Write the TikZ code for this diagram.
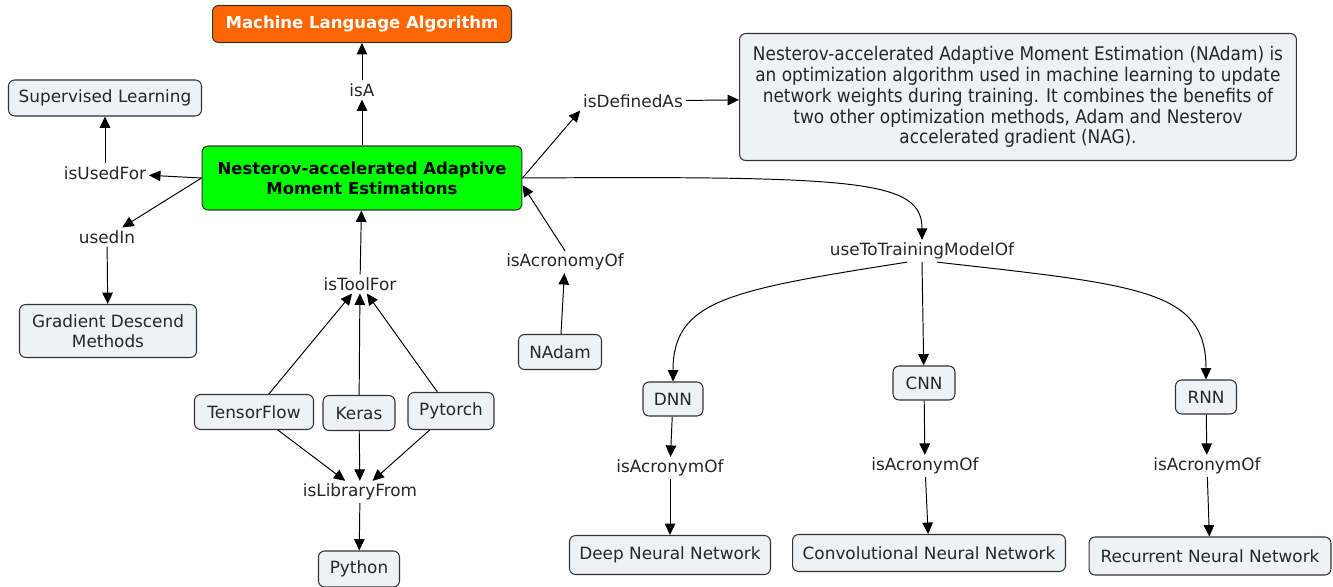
\documentclass[tikz,border=0pt]{standalone}
\usepackage{fontspec}
\setmainfont{DejaVu Sans}
\newfontfamily\condfont{DejaVu Sans Condensed}
\usetikzlibrary{arrows.meta,calc}
\definecolor{cfill}{HTML}{EDF2F5}
\definecolor{corange}{HTML}{FF6600}
\definecolor{cgreen}{HTML}{00FF00}

\begin{document}
\begin{tikzpicture}[
    x=0.02cm, y=-0.02cm,
    >={Triangle[length=6.5pt,width=6pt]}, font=\fontsize{9.6}{11.3}\selectfont,
    concept/.style={draw=black!80, line width=0.6pt, rounded corners=3.5pt, fill=cfill, align=center, inner sep=0pt, text=black!85},
    titre/.style={concept, font=\fontsize{9.4}{11.3}\selectfont\bfseries},
    lien/.style={inner sep=1.5pt, text=black!85},
    fl/.style={->, line width=0.55pt},
  ]
  \useasboundingbox (0,0) rectangle (1333,587);
  % --- Concepts principaux ---
  \node[titre, fill=corange, text=white, minimum width=5.98cm, minimum height=0.74cm] (mla) at (362,24) {Machine Language Algorithm};
  \node[titre, fill=cgreen, text=black, minimum width=6.4cm, minimum height=1.28cm] (nadam) at (362,178) {Nesterov-accelerated Adaptive\\Moment Estimations};
  \node[concept, minimum width=3.86cm, minimum height=0.72cm] (sup) at (105,98) {Supervised Learning};
  \node[concept, minimum width=3.54cm, minimum height=1.06cm] (grad) at (108,331) {Gradient Descend\\Methods};
  \node[concept, minimum width=11.14cm, minimum height=2.54cm, font=\condfont\fontsize{10.7}{11.9}\selectfont] (desc) at (1018,97)
    {Nesterov-accelerated Adaptive Moment Estimation (NAdam) is\\an optimization algorithm used in machine learning to update\\network weights during training. It combines the benefits of\\two other optimization methods, Adam and Nesterov\\accelerated gradient (NAG).};
  \node[concept, minimum width=1.66cm, minimum height=0.7cm] (short) at (560,352) {NAdam};
  % --- Outils ---
  \node[concept, minimum width=2.38cm, minimum height=0.7cm] (tf) at (254,412) {TensorFlow};
  \node[concept, minimum width=1.44cm, minimum height=0.7cm] (keras) at (359,413) {Keras};
  \node[concept, minimum width=1.72cm, minimum height=0.74cm] (torch) at (451,411) {Pytorch};
  \node[concept, minimum width=1.62cm, minimum height=0.72cm] (python) at (359,569) {Python};
  % --- Modeles ---
  \node[concept, minimum width=1.2cm, minimum height=0.68cm] (dnn) at (673,399) {DNN};
  \node[concept, minimum width=1.24cm, minimum height=0.68cm] (cnn) at (924,383) {CNN};
  \node[concept, minimum width=1.22cm, minimum height=0.68cm] (rnn) at (1206,397) {RNN};
  \node[concept, minimum width=4.02cm, minimum height=0.78cm] (deep) at (670,555) {Deep Neural Network};
  \node[concept, minimum width=5.46cm, minimum height=0.74cm] (conv) at (929,553) {Convolutional Neural Network};
  \node[concept, minimum width=4.84cm, minimum height=0.76cm] (rec) at (1210,556) {Recurrent Neural Network};

  % --- Mots de liaison ---
  \node[lien] (isa) at (362,90) {isA};
  \node[lien] (usedfor) at (105,173) {isUsedFor};
  \node[lien] (usedin) at (107,237) {usedIn};
  \node[lien] (tool) at (360,284) {isToolFor};
  \node[lien] (lib) at (360,492) {isLibraryFrom};
  \node[lien] (acro) at (565,262) {isAcronomyOf};
  \node[lien] (def) at (633,101) {isDefinedAs};
  \node[lien] (train) at (922,251) {useToTrainingModelOf};
  \node[lien] (dnnof) at (670,468) {isAcronymOf};
  \node[lien] (cnnof) at (925,466) {isAcronymOf};
  \node[lien] (rnnof) at (1207,466) {isAcronymOf};

  % Liaisons autour du concept central
  \draw[fl] (nadam) -- (isa);
  \draw[fl] (isa) -- (mla);
  \draw[fl] (nadam.west) -- (usedfor);
  \draw[fl] (usedfor) -- (sup);
  \draw[fl] (nadam.west) -- (usedin);
  \draw[fl] (usedin) -- (grad);
  \draw[fl] (nadam.east) -- (def.south west);
  \draw[fl] (def) -- (desc);
  \draw[fl] (short) -- (acro);
  \draw[fl] (acro.north) -- ([yshift=-4pt]nadam.east);
  % Outils et bibliotheques
  \foreach \o in {tf,keras,torch} {
    \draw[fl] (\o) -- (tool);
    \draw[fl] (\o) -- (lib);
  }
  \draw[fl] (tool) -- (nadam);
  \draw[fl] (lib) -- (python);
  % Entrainement des modeles
  \draw[fl] (nadam.east) .. controls (860,176) and (922,180) .. (train.north);
  \draw[fl] ($(train.south)+(-15,0)$) .. controls (730,290) and (673,300) .. (dnn.north);
  \draw[fl] (train.south) -- (cnn);
  \draw[fl] ($(train.south)+(15,0)$) .. controls (1140,285) and (1206,290) .. (rnn.north);
  \draw[fl] (dnn) -- (dnnof);
  \draw[fl] (dnnof) -- (deep);
  \draw[fl] (cnn) -- (cnnof);
  \draw[fl] (cnnof) -- (conv);
  \draw[fl] (rnn) -- (rnnof);
  \draw[fl] (rnnof) -- (rec);
\end{tikzpicture}
\end{document}
